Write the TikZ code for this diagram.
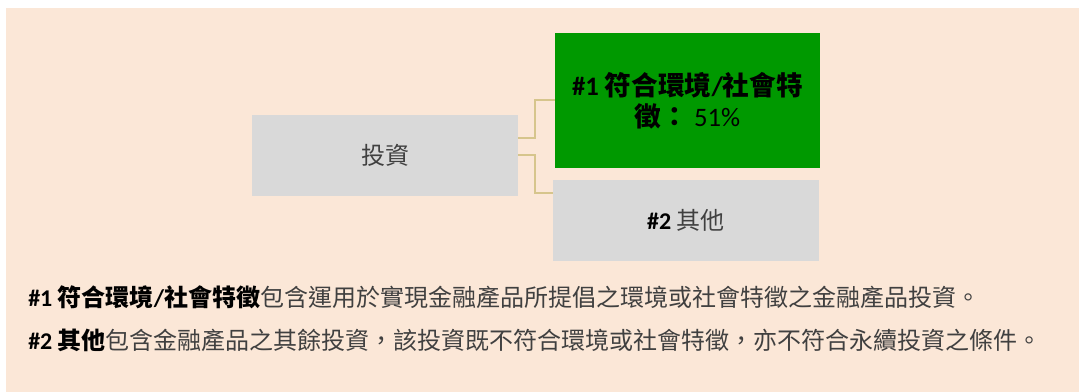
\documentclass[tikz,border=0pt]{standalone}
\usepackage{fontspec}
\usepackage{xcolor}
\usepackage{tikz}
\usetikzlibrary{calc}
\usetikzlibrary{positioning}
\setmainfont{Carlito}
\newfontfamily\cjk{Noto Sans CJK TC}
\newcommand{\zh}[1]{{\cjk #1}}
\definecolor{peach}{RGB}{251,231,215}
\definecolor{boxgray}{RGB}{217,217,217}
\definecolor{esggreen}{RGB}{0,153,0}
\definecolor{linktan}{RGB}{214,197,140}
\definecolor{textgray}{RGB}{64,64,64}
\tikzset{
	box/.style={fill=boxgray,minimum width=199.5pt,minimum height=60.75pt,inner sep=0pt,align=center},
	link/.style={linktan,line width=1.5pt},
	note/.style={anchor=west,inner sep=0pt,font=\fontsize{18pt}{22pt}\selectfont}
}

\begin{document}
\begin{tikzpicture}[x=0.75pt,y=-0.75pt]
	\useasboundingbox (0,0) rectangle (1079,392);
	\fill[peach] (6,8) rectangle (1079,392);
	\node[box,font=\fontsize{18pt}{22pt}\selectfont,text=textgray] (invest) at (385,155.5) {\zh{投資}};
	\node[box,fill=esggreen,minimum width=198.75pt,minimum height=101.25pt,font=\fontsize{20pt}{23pt}\selectfont] (esg) at (687.5,100.5) {{\bfseries\#1 \zh{符合環境}/\zh{社會特}}\\{\bfseries\zh{徵：}} 51\%};
	\node[box,font=\fontsize{18pt}{22pt}\selectfont] (other) at (686,220.5) {{\bfseries\#2} \textcolor{textgray}{\zh{其他}}};
	\draw[link] ($(invest.east)+(0,-17.5)$) -- ++(17,0) |- (esg.west);
	\draw[link] (invest.east) -- ++(17,0) |- ($(other.north west)+(0,13)$);
	\node[note] (note1) at (28,297) {{\bfseries\#1 \zh{符合環境}/\zh{社會特徵}}\textcolor{textgray}{\zh{包含運用於實現金融產品所提倡之環境或社會特徵之金融產品投資。}}};
	\node[note] (note2) at (28,340) {{\bfseries\#2 \zh{其他}}\textcolor{textgray}{\zh{包含金融產品之其餘投資，該投資既不符合環境或社會特徵，亦不符合永續投資之條件。}}};
\end{tikzpicture}
\end{document}
